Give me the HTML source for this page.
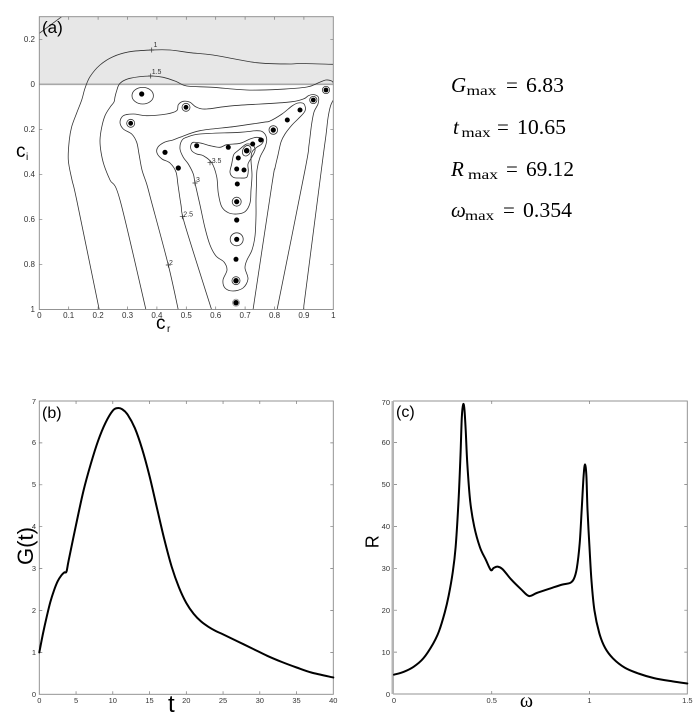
<!DOCTYPE html>
<html><head><meta charset="utf-8"><style>html,body{margin:0;padding:0;background:#fff}svg{display:block}</style></head>
<body>
<svg id="fig" width="693" height="717" viewBox="0 0 693 717" xmlns="http://www.w3.org/2000/svg">
<rect width="693" height="717" fill="#fff"/>
<defs><clipPath id="ca"><rect x="39.3" y="16.7" width="294" height="292.8"/></clipPath></defs>
<!-- Panel (a) -->
<rect x="39.3" y="16.7" width="294" height="67.6" fill="#e7e7e7"/>
<line x1="39.3" y1="84.3" x2="333.3" y2="84.3" stroke="#a8a8a8" stroke-width="1.6"/>
<g clip-path="url(#ca)" fill="none" stroke="#333" stroke-width="0.8" stroke-linejoin="round">
<polyline class="sm" points="333.3,64.3 300,63.5 290,64 256.7,62.7 213,55 190,52.7 170,50 151.7,50 130,51.7 113,56.7 100,65 90,76.7 85,88.3 81.7,100 76.7,113 71.7,126.7 69.3,140 68.3,160 72,180 76.7,200 99.3,310"/>
<polyline points="39.3,33.3 61.7,16.7"/>
<polyline class="sm" points="333.3,83 331.7,81 326,80 318,83 307,87 280,89.3 246.7,90 213,87.3 186.7,86 176.7,81.7 163.3,77.3 150.7,76 130,78.3 120,83.3 116.7,90.7 115,97 114,102 110,107.3 105,115.7 101.7,127.3 100,140 101,152 104,165 110,180 120,200 146,310"/>
<polyline class="sm" points="333.3,100 330.5,106 328,118 326,135 322,165 303.3,310"/>
<polyline class="sm" points="178.3,310 168.3,265 151,200 146.7,184 142,170 139,154 136.7,142.3 131.7,134 123.3,129 120,122.3 123.3,115.7 133.3,114 146.7,115.7 166.7,114 176.7,110.7 178.3,104.7 183.3,101.3 190,102.3 196.7,107.3 206.7,109 233.3,105.7 286.7,102.3 303.3,99 308.3,95.7 313.3,94.5 318.3,97 318,104 314,112 311.5,125 309,145 305,170 277,310"/>
<polyline class="sm" points="211.7,310 185,225 181,205 178,185 176,172 170,163 162,159 157,153 158,147 165,142 173,140 180,137.3 200,130.7 233.3,126.7 263.3,122.3 270,121 282,114 292,106 298,103 304,104 305,111 298,119 292,125 285,134 281,142 278,155 275,168 272,184 253,310"/>
<polygon class="sm" points="181.7,140.7 186.7,137.3 200,134 240,132.3 256.7,130.7 263.3,132.3 266.7,139 265,147.3 260,157.3 257,170 256.5,183 256,200 256,216 255,236 252,250 247,260 245,268 248,279 243,288 233,291 225,288 223,280 227,270 224,262 216,256 210,245 205,228 200,205 195,183 193.3,174 188.3,164 183.3,157.3 180,149"/>
<polygon class="sm" points="193.3,142.3 201.7,143.3 210,145.7 220,147.3 226.7,144.7 240,143.3 250,139 256.7,137.3 263.3,139 261.7,144 256.7,147.3 252,152 251,160 252,175 251,190 250,203 245,211.7 236.7,214 228.3,212.7 221.7,206.7 218.3,193.3 216.7,176.7 211.7,162.7 203.3,155.7 196.7,154 191.7,150.7 190.7,145.7"/>
<polygon class="sm" points="233.3,155.7 231.7,164 230,172.3 233.3,177.3 240,178 246.7,177.3 248.3,170.7 248,164 251.7,157.3 255,150.7 253.3,145.7 246.7,144 240,149 235,153"/>
<ellipse cx="142.7" cy="95.7" rx="10.7" ry="8.3"/>
<circle cx="186" cy="107.3" r="4"/>
<circle cx="130.7" cy="123.3" r="4"/>
<circle cx="326" cy="90" r="3.6"/>
<circle cx="313.3" cy="100" r="3.6"/>
<circle cx="273.3" cy="130" r="4.3"/>
<ellipse cx="246.7" cy="150.7" rx="4" ry="5.5" transform="rotate(25 246.7 150.7)"/>
<circle cx="236.7" cy="201.7" r="4.5"/>
<circle cx="236.7" cy="239.3" r="6.5"/>
<circle cx="236" cy="280.7" r="4"/>
<circle cx="236" cy="302.7" r="3.5" stroke="#999"/>
<path d="M151.7,47.5V52.5M149.2,50H154.2 M150.7,73.5V78.5M148.2,76H153.2 M210,160.2V165.2M207.5,162.7H212.5 M195,180.5V185.5M192.5,183H197.5 M182.3,214.2V219.2M179.8,216.7H184.8 M168.3,262.5V267.5M165.8,265H170.8" stroke-width="0.7"/>
</g>
<g fill="#000">
<circle cx="141.7" cy="94" r="2.6"/><circle cx="186" cy="107.3" r="2.4"/><circle cx="130.7" cy="123.3" r="2.4"/>
<circle cx="326" cy="90" r="2.4"/><circle cx="313.3" cy="100" r="2.4"/><circle cx="300" cy="110" r="2.5"/>
<circle cx="287.3" cy="120" r="2.5"/><circle cx="273.3" cy="130" r="2.6"/><circle cx="260.7" cy="140" r="2.5"/>
<circle cx="252.7" cy="144" r="2.5"/><circle cx="246.7" cy="150.7" r="2.8"/><circle cx="228.3" cy="147.3" r="2.5"/>
<circle cx="238.3" cy="158" r="2.5"/><circle cx="196.7" cy="145.7" r="2.5"/><circle cx="165" cy="152.3" r="2.6"/>
<circle cx="178.3" cy="168" r="2.6"/><circle cx="236.7" cy="169" r="2.5"/><circle cx="244" cy="170" r="2.5"/>
<circle cx="237.3" cy="184" r="2.5"/><circle cx="236.7" cy="201.7" r="2.6"/><circle cx="236.7" cy="220" r="2.6"/>
<circle cx="236.7" cy="239.3" r="2.6"/><circle cx="236" cy="259.3" r="2.5"/><circle cx="236" cy="280.7" r="2.7"/>
<circle cx="236" cy="302.7" r="2.7"/>
</g>
<g font-family="Liberation Sans, sans-serif" font-size="7" fill="#333">
<text x="153.5" y="47">1</text><text x="151.7" y="74">1.5</text><text x="211.7" y="163">3.5</text>
<text x="196" y="182">3</text><text x="183.3" y="216.5">2.5</text><text x="169" y="265">2</text>
</g>
<rect x="39.3" y="16.7" width="294" height="292.8" fill="none" stroke="#888" stroke-width="0.9"/>
<g stroke="#777" stroke-width="0.7">
<path d="M68.7,309.5v-3M98.1,309.5v-3M127.5,309.5v-3M156.9,309.5v-3M186.3,309.5v-3M215.7,309.5v-3M245.1,309.5v-3M274.5,309.5v-3M303.9,309.5v-3"/>
<path d="M68.7,16.7v3M98.1,16.7v3M127.5,16.7v3M156.9,16.7v3M186.3,16.7v3M215.7,16.7v3M245.1,16.7v3M274.5,16.7v3M303.9,16.7v3"/>
<path d="M39.3,39.3h3M39.3,129.3h3M39.3,174.3h3M39.3,219.3h3M39.3,264.3h3M333.3,39.3h-3M333.3,129.3h-3M333.3,174.3h-3M333.3,219.3h-3M333.3,264.3h-3"/>
</g>
<g font-family="Liberation Sans, sans-serif" font-size="8" fill="#333">
<g text-anchor="end"><text x="35" y="42">0.2</text><text x="35" y="87">0</text><text x="35" y="132">0.2</text><text x="35" y="177">0.4</text><text x="35" y="222">0.6</text><text x="35" y="267">0.8</text><text x="35" y="312">1</text></g>
<g text-anchor="middle"><text x="39.3" y="318">0</text><text x="68.7" y="318">0.1</text><text x="98.1" y="318">0.2</text><text x="127.5" y="318">0.3</text><text x="156.9" y="318">0.4</text><text x="186.3" y="318">0.5</text><text x="215.7" y="318">0.6</text><text x="245.1" y="318">0.7</text><text x="274.5" y="318">0.8</text><text x="303.9" y="318">0.9</text><text x="333.3" y="318">1</text></g>
</g>
<g font-family="Liberation Sans, sans-serif" fill="#000">
<text x="42" y="33" font-size="17">(a)</text>
<text x="16" y="157" font-size="19">c</text><text x="26" y="160" font-size="10">i</text>
<text x="156" y="329" font-size="19">c</text><text x="167" y="332" font-size="10">r</text>
</g>
<!-- Right text -->
<g font-family="Liberation Serif, serif" fill="#000">
<text x="451" y="92" font-size="21" font-style="italic">G</text><text x="466.5" y="95" font-size="14" textLength="30" lengthAdjust="spacingAndGlyphs">max</text><text x="506" y="92" font-size="21">=</text><text x="526" y="92" font-size="21" textLength="38" lengthAdjust="spacingAndGlyphs">6.83</text>
<text x="453" y="134" font-size="21" font-style="italic">t</text><text x="461.5" y="137" font-size="14" textLength="29" lengthAdjust="spacingAndGlyphs">max</text><text x="497" y="134" font-size="21">=</text><text x="517" y="134" font-size="21" textLength="49" lengthAdjust="spacingAndGlyphs">10.65</text>
<text x="451" y="176" font-size="21" font-style="italic">R</text><text x="468" y="179" font-size="14" textLength="30" lengthAdjust="spacingAndGlyphs">max</text><text x="506" y="176" font-size="21">=</text><text x="526" y="176" font-size="21" textLength="48" lengthAdjust="spacingAndGlyphs">69.12</text>
<text x="451" y="217" font-size="21" font-style="italic">ω</text><text x="465" y="220" font-size="14" textLength="29" lengthAdjust="spacingAndGlyphs">max</text><text x="503" y="217" font-size="21">=</text><text x="523" y="217" font-size="21" textLength="49" lengthAdjust="spacingAndGlyphs">0.354</text>
</g>
<!-- Panel (b) -->
<rect x="39.3" y="401" width="294" height="293.3" fill="none" stroke="#888" stroke-width="0.9"/>
<g stroke="#777" stroke-width="0.7">
<path d="M76.05,694.3v-3M112.8,694.3v-3M149.55,694.3v-3M186.3,694.3v-3M223.05,694.3v-3M259.8,694.3v-3M296.55,694.3v-3"/>
<path d="M76.05,401v3M112.8,401v3M149.55,401v3M186.3,401v3M223.05,401v3M259.8,401v3M296.55,401v3"/>
<path d="M39.3,652.4h3M39.3,610.5h3M39.3,568.6h3M39.3,526.7h3M39.3,484.8h3M39.3,442.9h3M333.3,652.4h-3M333.3,610.5h-3M333.3,568.6h-3M333.3,526.7h-3M333.3,484.8h-3M333.3,442.9h-3"/>
</g>
<g font-family="Liberation Sans, sans-serif" font-size="7.5" fill="#333">
<g text-anchor="end"><text x="36" y="697">0</text><text x="36" y="655">1</text><text x="36" y="613">2</text><text x="36" y="571">3</text><text x="36" y="529">4</text><text x="36" y="487">5</text><text x="36" y="445">6</text><text x="36" y="404">7</text></g>
<g text-anchor="middle"><text x="39.3" y="703">0</text><text x="76.05" y="703">5</text><text x="112.8" y="703">10</text><text x="149.55" y="703">15</text><text x="186.3" y="703">20</text><text x="223.05" y="703">25</text><text x="259.8" y="703">30</text><text x="296.55" y="703">35</text><text x="333.3" y="703">40</text></g>
</g>
<polyline class="sm" fill="none" stroke="#000" stroke-width="2" stroke-linejoin="round" stroke-linecap="round" points="39.3,652.4 43,633.5 46.7,616.8 50.3,602.1 54,590.4 57.7,581.2 61.4,575.3 64.3,572.4 66.5,571.5 68.7,560.2 76.1,524.6 83.4,491.1 90.8,463.9 98.1,440.8 105.5,422.8 112.8,410.6 117.6,408.1 122.4,409.4 127.5,414.4 134.9,428.2 142.2,449.2 149.6,476.4 156.9,507.8 164.3,539.3 171.6,566.5 179,587.5 186.3,603 193.7,613.9 201,621.4 208.4,626.8 215.7,631 223.1,634.4 237.8,641.5 252.5,648.6 267.2,655.8 281.9,662 296.6,667.5 311.3,672.5 333.3,677.5"/>
<g font-family="Liberation Sans, sans-serif" fill="#000">
<text x="42" y="418" font-size="16">(b)</text>
<text x="168" y="712" font-size="24">t</text>
<text transform="translate(33,546) rotate(-90)" text-anchor="middle" font-size="22">G(t)</text>
</g>
<!-- Panel (c) -->
<rect x="393.5" y="401" width="293.8" height="293" fill="none" stroke="#888" stroke-width="0.9"/>
<line x1="392.7" y1="401" x2="392.7" y2="694" stroke="#b5b5b5" stroke-width="2.4"/>
<g stroke="#777" stroke-width="0.7">
<path d="M491.75,694v-3M589.5,694v-3M491.75,401v3M589.5,401v3"/>
<path d="M394,652.1h3M394,610.2h3M394,568.3h3M394,526.4h3M394,484.5h3M394,442.6h3M687.3,652.1h-3M687.3,610.2h-3M687.3,568.3h-3M687.3,526.4h-3M687.3,484.5h-3M687.3,442.6h-3"/>
</g>
<g font-family="Liberation Sans, sans-serif" font-size="7.5" fill="#333">
<g text-anchor="end"><text x="390" y="697">0</text><text x="390" y="655">10</text><text x="390" y="613">20</text><text x="390" y="571">30</text><text x="390" y="529">40</text><text x="390" y="487">50</text><text x="390" y="445">60</text><text x="390" y="405">70</text></g>
<g text-anchor="middle"><text x="394" y="703">0</text><text x="491.75" y="703">0.5</text><text x="589.5" y="703">1</text><text x="687.3" y="703">1.5</text></g>
</g>
<polyline class="sm" fill="none" stroke="#000" stroke-width="2" stroke-linejoin="round" stroke-linecap="round" points="394,674.7 403.8,671.8 413.6,666.8 423.3,658.4 433.1,643.7 439,631.2 444.8,612.3 448.7,595.5 452.7,572.5 455.6,547.4 458.5,501.3 460.5,455.2 461.8,417.5 463.2,404.4 464.4,409.1 465.7,430 467.3,463.6 470.2,501.3 474.2,526.4 480,547.4 485.9,559.9 490.8,570 493.7,567.9 497.6,566.6 502.5,569.1 511.3,579.6 521.1,589.3 528.9,596 536.7,593 550.4,588.4 562.1,584.6 570,583 573.9,578.8 576.8,568.3 579.7,543.2 581.7,509.6 583.6,476.1 585,464.4 586.4,476.1 587.5,509.6 589.5,547.4 591.5,580.9 594.4,610.2 599.3,633.2 605.1,647.9 613,658.4 624.7,667.6 638.4,673.5 654,678.1 672.6,681.4 687.3,683.5"/>
<g fill="#000">
<text x="396" y="417" font-family="Liberation Sans, sans-serif" font-size="16">(c)</text>
<text x="526.5" y="707" font-family="Liberation Serif, serif" font-size="20" text-anchor="middle">ω</text>
<text transform="translate(378.3,541.7) rotate(-90)" text-anchor="middle" font-family="Liberation Sans, sans-serif" font-size="18">R</text>
</g>
</svg>
<script>
(function(){
  var ns="http://www.w3.org/2000/svg";
  var els=document.querySelectorAll('.sm');
  for(var k=0;k<els.length;k++){
    var el=els[k];
    var closed=el.tagName.toLowerCase()==='polygon';
    var raw=el.getAttribute('points').trim().split(/\s+/);
    var p=raw.map(function(s){var a=s.split(',');return [parseFloat(a[0]),parseFloat(a[1])];});
    var n=p.length;
    function g(i){ if(closed){return p[(i+n)%n];} return p[Math.max(0,Math.min(n-1,i))]; }
    var d='M'+p[0][0].toFixed(2)+','+p[0][1].toFixed(2);
    var segs=closed?n:n-1;
    for(var i=0;i<segs;i++){
      var p0=g(i-1),p1=g(i),p2=g(i+1),p3=g(i+2);
      var c1=[p1[0]+(p2[0]-p0[0])/6,p1[1]+(p2[1]-p0[1])/6];
      var c2=[p2[0]-(p3[0]-p1[0])/6,p2[1]-(p3[1]-p1[1])/6];
      d+=' C'+c1[0].toFixed(2)+','+c1[1].toFixed(2)+' '+c2[0].toFixed(2)+','+c2[1].toFixed(2)+' '+p2[0].toFixed(2)+','+p2[1].toFixed(2);
    }
    if(closed)d+='Z';
    var path=document.createElementNS(ns,'path');
    var attrs=['fill','stroke','stroke-width','stroke-linejoin','stroke-linecap'];
    for(var j=0;j<attrs.length;j++){var v=el.getAttribute(attrs[j]);if(v)path.setAttribute(attrs[j],v);}
    path.setAttribute('d',d);
    el.parentNode.replaceChild(path,el);
  }
})();
</script>
</body></html>
